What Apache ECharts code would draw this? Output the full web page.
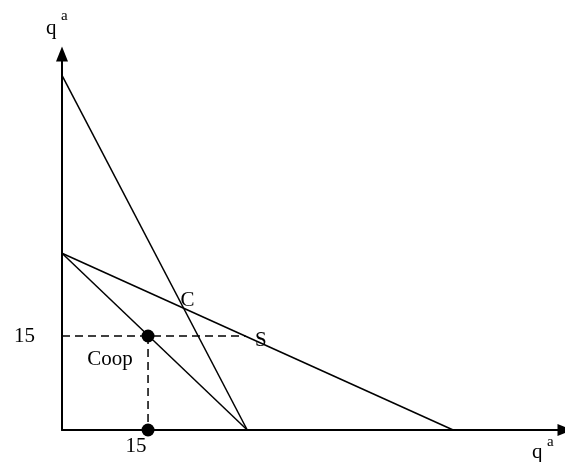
<!DOCTYPE html>
<html>
<head>
<meta charset="utf-8">
<script src="https://cdn.jsdelivr.net/npm/echarts@6/dist/echarts.min.js"></script>
<style>html,body{margin:0;padding:0;background:#fff}#chart{width:565px;height:462px}</style>
</head>
<body>
<div id="chart"></div>
<script>
// ========== 数据 ==========
const tickValues = [15];
const steepLine = [[0, 56.6], [32.3, 0]];
const coopLine = [[0, 28.2], [32.3, 0]];
const flatLine = [[0, 28.2], [68.2, 0]];
const dashH = [[0, 15], [32, 15]];
const dashV = [[15, 15], [15, 0]];
const dots = [[15, 15], [15, 0]];
const pointC = [21.2, 19.4];
const pointS = [31.9, 15];
const pointCoop = [15, 15];

const serif = '"Liberation Serif", "Times New Roman", serif';

// ========== 图表 ==========
const chart = echarts.init(document.getElementById('chart'));

function solid(data) {
    return {
        type: 'line', data: data, symbol: 'none', silent: true,
        lineStyle: { color: '#000', width: 1.5 }
    };
}
function dashed(data) {
    return {
        type: 'line', data: data, symbol: 'none', silent: true,
        lineStyle: { color: '#000', width: 1.5, type: [8, 5] }
    };
}

const axisCommon = {
    type: 'value',
    splitLine: { show: false },
    axisTick: { show: false },
    axisLine: {
        show: true, onZero: false,
        symbol: ['none', 'triangle'], symbolSize: [12, 15],
        lineStyle: { color: '#000', width: 2 }
    }
};

chart.setOption({
    animation: false,
    grid: { left: 62, right: 0, top: 54, bottom: 32 },
    xAxis: Object.assign({}, axisCommon, {
        min: 0, max: 87.7,
        axisLabel: {
            customValues: tickValues, color: '#000', fontFamily: serif, fontSize: 21,
            margin: 6, padding: [0, 24, 0, 0]
        }
    }),
    yAxis: Object.assign({}, axisCommon, {
        min: 0, max: 60,
        axisLabel: {
            customValues: tickValues, color: '#000', fontFamily: serif, fontSize: 21,
            margin: 27
        }
    }),
    graphic: [
        { type: 'text', left: 46, top: 18, style: { text: 'q', font: '21px ' + serif, fill: '#000' } },
        { type: 'text', left: 61, top: 9, style: { text: 'a', font: '15px ' + serif, fill: '#000' } },
        { type: 'text', left: 532, top: 442, style: { text: 'q', font: '21px ' + serif, fill: '#000' } },
        { type: 'text', left: 547, top: 435, style: { text: 'a', font: '15px ' + serif, fill: '#000' } }
    ],
    series: [
        solid(steepLine),
        solid(coopLine),
        solid(flatLine),
        dashed(dashH),
        dashed(dashV),
        {
            type: 'scatter', data: dots, symbolSize: 13, silent: true,
            itemStyle: { color: '#000', opacity: 1 }
        },
        {
            type: 'scatter', symbolSize: 0, silent: true,
            itemStyle: { opacity: 1 },
            label: {
                show: true, formatter: '{b}', color: '#000',
                fontFamily: serif, fontSize: 21
            },
            data: [
                { name: 'C', value: pointC, label: { offset: [4, -8] } },
                { name: 'S', value: pointS, label: { offset: [16, 4] } },
                { name: 'Coop', value: pointCoop, label: { offset: [-38, 23] } }
            ]
        }
    ]
});
</script>
</body>
</html>
